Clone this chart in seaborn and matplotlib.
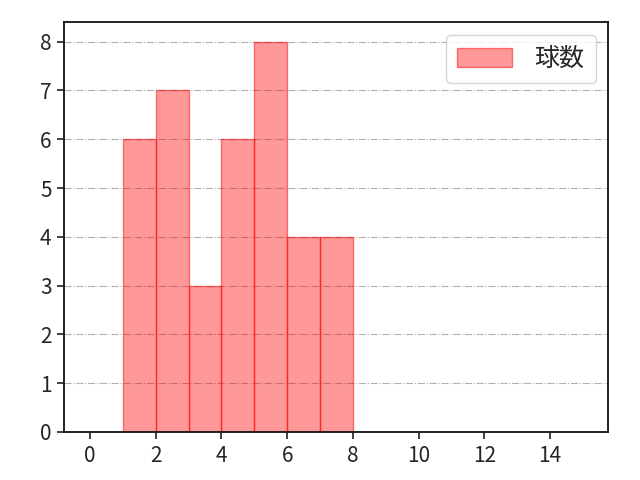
import matplotlib
matplotlib.use('Agg')
import matplotlib.pyplot as plt
import seaborn as sns
import numpy as np

# pitch counts per bin (bin edges 1..8)
bin_starts = [1, 2, 3, 4, 5, 6, 7]
counts = [6, 7, 3, 6, 8, 4, 4]
bin_edges = [1, 2, 3, 4, 5, 6, 7, 8]
x_ticks = [0, 2, 4, 6, 8, 10, 12, 14]
y_ticks = [0, 1, 2, 3, 4, 5, 6, 7, 8]
label = '球数'

sns.set_style('ticks')
plt.rcParams['font.family'] = ['Noto Sans CJK JP', 'DejaVu Sans']

fig = plt.figure(figsize=(6.4, 4.8), dpi=100)
ax = fig.add_axes([0.1, 0.1, 0.85, 0.854])

sns.histplot(x=bin_starts, weights=counts, bins=bin_edges,
             facecolor=(1, 0, 0, 0.4), edgecolor=(1, 0, 0, 0.5),
             linewidth=1.0, label=label, ax=ax)

ax.set_xlim(-0.79, 15.76)
ax.set_ylim(0, 8.4)
ax.set_xticks(x_ticks)
ax.set_yticks(y_ticks)
ax.tick_params(labelsize=15, length=5, width=1.2, color='#222222', pad=4)
ax.set_xlabel('')
ax.set_ylabel('')
ax.grid(axis='y', linestyle='-.', color='#b0b0b0', linewidth=0.8)
ax.set_axisbelow(True)
for s in ax.spines.values():
    s.set_linewidth(1.3)
    s.set_color('#111111')

ax.legend(loc='upper right', fontsize=18, handlelength=2.2, handleheight=0.8,
          borderpad=0.45, borderaxespad=0.5, handletextpad=0.9)

fig.savefig('out.png', dpi=100)
